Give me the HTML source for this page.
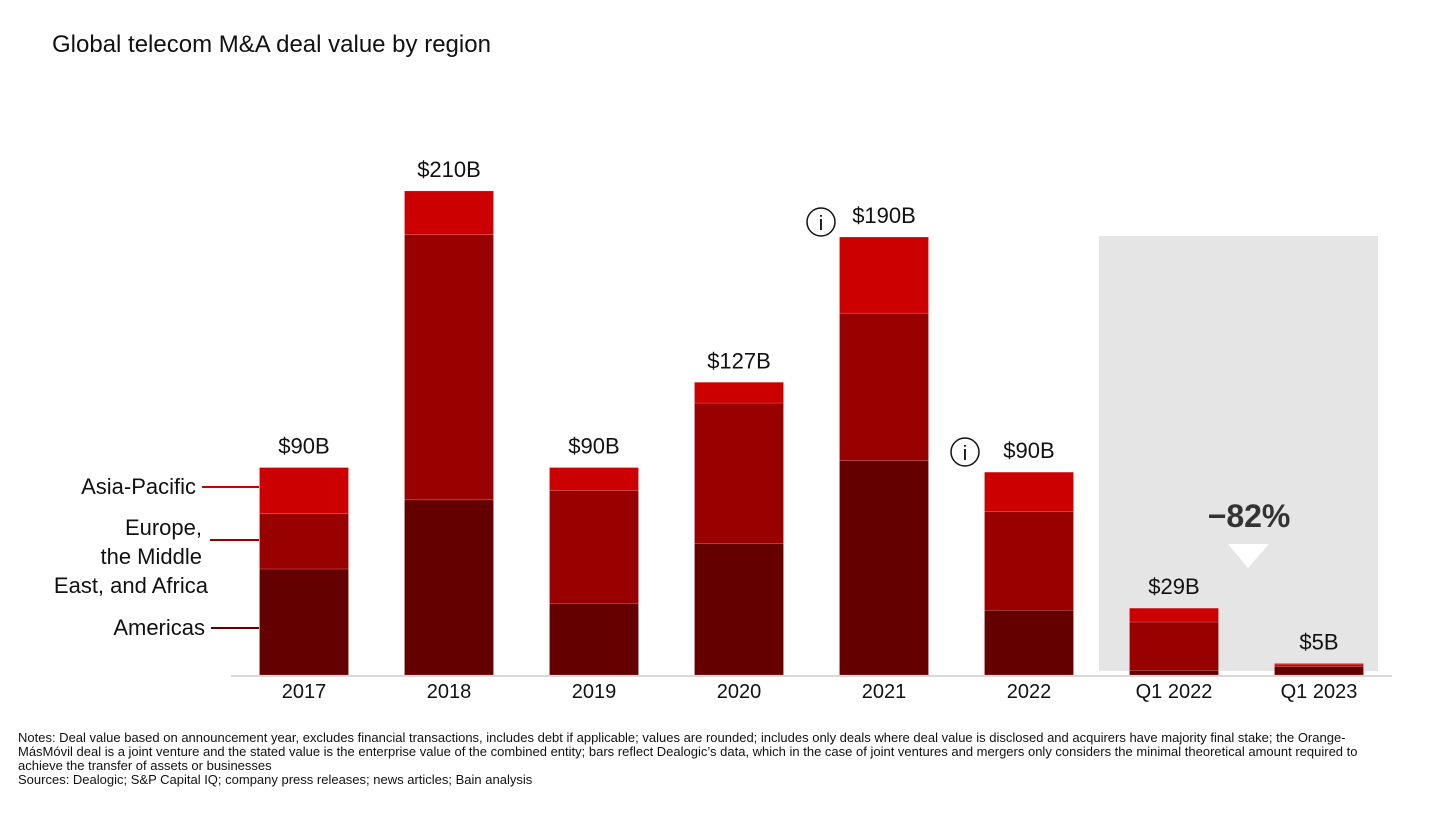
<!DOCTYPE html>
<html><head><meta charset="utf-8"><style>
body{margin:0;background:#fff;}
svg text{font-family:"Liberation Sans",sans-serif;}
</style></head><body>
<svg width="1456" height="821" viewBox="0 0 1456 821" xmlns="http://www.w3.org/2000/svg">
<rect width="1456" height="821" fill="#fff"/>
<text x="52" y="52" font-size="24" fill="#111">Global telecom M&amp;A deal value by region</text>
<rect x="1099" y="236" width="279" height="435" fill="#e5e5e5"/>
<g id="bars"></g>
<line x1="231" y1="676" x2="1392" y2="676" stroke="#d8d8d8" stroke-width="2"/>
<g font-size="22" fill="#111" text-anchor="end">
<text x="196" y="494">Asia-Pacific</text>
<line x1="202" y1="487" x2="259" y2="487" stroke="#cc0000" stroke-width="2"/>
<text x="202" y="535">Europe,</text>
<text x="202" y="564">the Middle</text>
<text x="208" y="593">East, and Africa</text>
<line x1="210" y1="540" x2="259" y2="540" stroke="#990000" stroke-width="2"/>
<text x="205" y="635">Americas</text>
<line x1="211" y1="628" x2="259" y2="628" stroke="#650000" stroke-width="2"/>
</g>
<g><circle cx="821" cy="222" r="14" fill="#fff" stroke="#111" stroke-width="1.5"/><text x="821" y="230" font-size="20" text-anchor="middle">i</text></g>
<g><circle cx="965" cy="452" r="14" fill="#fff" stroke="#111" stroke-width="1.5"/><text x="965" y="460" font-size="20" text-anchor="middle">i</text></g>
<text x="1249" y="527" font-size="32" font-weight="bold" fill="#333" text-anchor="middle">−82%</text>
<polygon points="1228,544 1269,544 1248,568" fill="#fff"/>
<g font-size="13" fill="#111">
<text x="18" y="742">Notes: Deal value based on announcement year, excludes financial transactions, includes debt if applicable; values are rounded; includes only deals where deal value is disclosed and acquirers have majority final stake; the Orange-</text>
<text x="18" y="756">MásMóvil deal is a joint venture and the stated value is the enterprise value of the combined entity; bars reflect Dealogic’s data, which in the case of joint ventures and mergers only considers the minimal theoretical amount required to</text>
<text x="18" y="770">achieve the transfer of assets or businesses</text>
<text x="18" y="784">Sources: Dealogic; S&amp;P Capital IQ; company press releases; news articles; Bain analysis</text>
</g>
</svg>
<script>
const categories=["2017","2018","2019","2020","2021","2022","Q1 2022","Q1 2023"];
const americas=[46,76,31,57,93,28,2,3.6];
const emea=[24,115,49,61,64,43,21,0.8];
const apac=[20,19,10,9,33,17,6,0.6];
const totalLabels=["$90B","$210B","$90B","$127B","$190B","$90B","$29B","$5B"];
const baseY=675, scale=2.305, x0=304, step=145, bw=89;
const xPos=i=>x0+i*step;
const yPos=v=>baseY-v*scale;
const g=document.getElementById('bars');
const NS="http://www.w3.org/2000/svg";
const series=[[americas,"#650000","americas"],[emea,"#990000","emea"],[apac,"#cc0000","asia-pacific"]];
categories.forEach((c,i)=>{
  let acc=0;
  series.forEach(([arr,col,nm])=>{
    const r=document.createElementNS(NS,'rect');
    r.setAttribute('x',xPos(i)-bw/2);
    r.setAttribute('y',yPos(acc+arr[i]));
    r.setAttribute('width',bw);
    r.setAttribute('height',arr[i]*scale);
    r.setAttribute('fill',col);
    r.setAttribute('stroke','rgba(255,255,255,0.25)');
    r.setAttribute('stroke-width','0.6');
    
    
    g.appendChild(r);
    acc+=arr[i];
  });
  const t=document.createElementNS(NS,'text');
  t.setAttribute('x',xPos(i));t.setAttribute('y',yPos(acc)-14);
  t.setAttribute('font-size','22');t.setAttribute('text-anchor','middle');t.setAttribute('fill','#111');
  t.textContent=totalLabels[i];
  
  
  g.appendChild(t);
  const l=document.createElementNS(NS,'text');
  l.setAttribute('x',xPos(i));l.setAttribute('y',698);
  l.setAttribute('font-size','20');l.setAttribute('text-anchor','middle');l.setAttribute('fill','#111');
  l.textContent=c;
  
  
  g.appendChild(l);
});
</script>
</body></html>
